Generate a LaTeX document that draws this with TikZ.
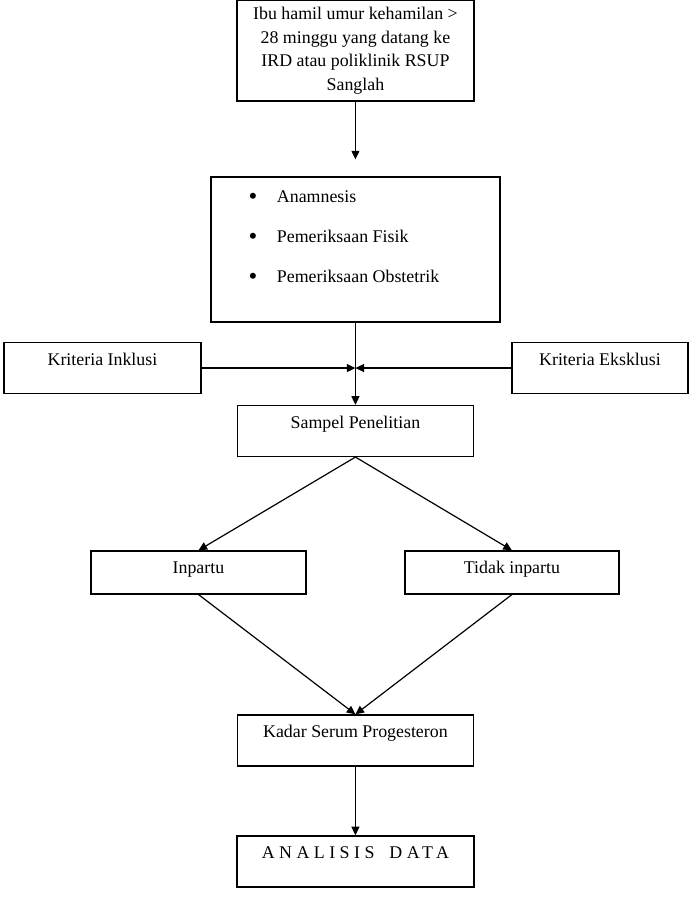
\documentclass[tikz,border=0pt]{standalone}
\usepackage{fontspec}
\setmainfont{Liberation Serif}
\usetikzlibrary{arrows.meta, positioning}

\begin{document}
\begin{tikzpicture}[on grid, >={Triangle[length=6.5pt,width=6pt]}, line width=0.9pt, font=\fontsize{13.4pt}{17.7pt}\selectfont, box/.style={rectangle, draw, inner sep=0pt, text height=17.25pt, text depth=21pt}, smallbox/.style={box, text depth=15pt}]

            \useasboundingbox (-266.6pt,37.9pt) rectangle (250.1pt,-634.9pt);

            \node[draw, inner sep=0pt, minimum width=177.75pt, minimum height=75.75pt, align=center] (ibu) {Ibu hamil umur kehamilan >\\28 minggu yang datang ke\\IRD atau poliklinik RSUP\\Sanglah};
            \node[draw, minimum width=216.75pt, minimum height=108.75pt, below=149.25pt of ibu] (periksa) {};
            \node[anchor=north west, inner sep=0pt, align=left, font=\fontsize{13.4pt}{30pt}\selectfont] (daftar) at ([xshift=28.2pt, yshift=-10.5pt]periksa.north west) {\makebox[21.3pt][l]{\raisebox{-1.3pt}{\scalebox{1.4}{\textbullet}}}Anamnesis\\\makebox[21.3pt][l]{\raisebox{-1.3pt}{\scalebox{1.4}{\textbullet}}}Pemeriksaan Fisik\\\makebox[21.3pt][l]{\raisebox{-1.3pt}{\scalebox{1.4}{\textbullet}}}Pemeriksaan Obstetrik};
            \coordinate[below=88.9pt of periksa] (temu);
            \node[box, minimum width=147.75pt, below left=88.9pt and 189.75pt of periksa] (inklusi) {Kriteria Inklusi};
            \node[box, minimum width=132pt, below right=88.9pt and 183.4pt of periksa] (eksklusi) {Kriteria Eksklusi};
            \node[box, minimum width=177pt, below=136.1pt of periksa] (sampel) {Sampel Penelitian};
            \node[smallbox, minimum width=161.25pt, below left=106.1pt and 117.75pt of sampel] (inpartu) {Inpartu};
            \node[smallbox, minimum width=160.5pt, below right=106.1pt and 117.4pt of sampel] (tidak) {Tidak inpartu};
            \node[box, minimum width=177pt, below=232.1pt of sampel] (kadar) {Kadar Serum Progesteron};
            \node[box, minimum width=177.75pt, below=90.75pt of kadar, font=\fontsize{13.4pt}{17.7pt}\selectfont\addfontfeature{LetterSpace=25}] (analisis) {ANALISIS\hspace{4.5pt} DATA};

            \draw[->, shorten >=12.75pt] (ibu) -- (periksa);
            \draw[->] (periksa) -- (sampel);
            \draw[->] (inklusi) -- (temu);
            \draw[->] (eksklusi) -- (temu);
            \draw[->] (sampel.south) -- (inpartu.north);
            \draw[->] (sampel.south) -- (tidak.north);
            \draw[->] (inpartu.south) -- (kadar.north);
            \draw[->] (tidak.south) -- (kadar.north);
            \draw[->] (kadar) -- (analisis);

        \end{tikzpicture}
\end{document}
